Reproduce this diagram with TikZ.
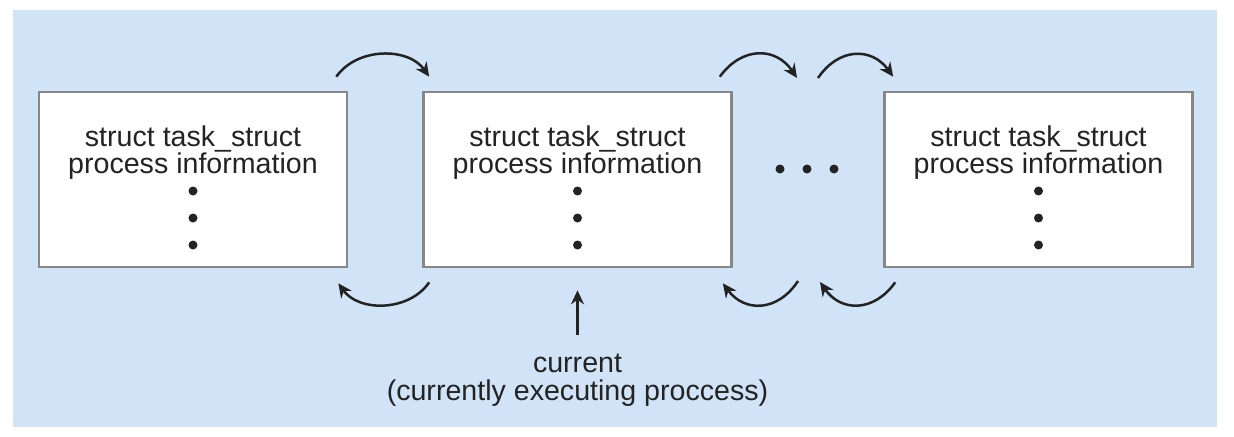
\documentclass[tikz,border=0pt]{standalone}
\usepackage{fontspec}
\setmainfont{Liberation Sans}
\usetikzlibrary{arrows.meta}
\definecolor{panel}{RGB}{209,228,247}
\definecolor{boxline}{RGB}{135,135,135}
\definecolor{ink}{RGB}{35,35,35}
\tikzstyle{task} = [rectangle, draw=boxline, line width=1.3pt, fill=white, minimum width=154pt, minimum height=87.5pt, inner sep=0pt]
\tikzstyle{info} = [align=center, inner sep=0pt, text=ink, font=\fontsize{14.3}{13.7}\selectfont]
\tikzstyle{arrow} = [ink, line width=1.25pt, ->, >={Stealth[length=7pt, width=6.5pt]}]
\tikzstyle{hop} = [arrow, bend left=55]
\begin{document}
\begin{tikzpicture}[x = 0.5pt, y = 0.5pt]

% ----------------------------------------------------

  \useasboundingbox (0,0) rectangle (1234,436);
  \fill[panel] (13,9) rectangle (1217,426);

% ----------------------------------------------------

  \node (task1) [task] at (193, 256.5) {};
  \node (task2) [task] at (577.5, 256.5) {};
  \node (task3) [task] at (1038.5, 256.5) {};
  \coordinate (more) at (807, 267);

  \node (info1) [info, anchor=north] at (193, 311) {struct task\_struct\\process information};
  \node (info2) [info, anchor=north] at (577.5, 311) {struct task\_struct\\process information};
  \node (info3) [info, anchor=north] at (1038.5, 311) {struct task\_struct\\process information};

  % vertical dots in each task
  \foreach \x in {193, 577.5, 1038.5}
    \foreach \y in {245, 218, 191}
      \fill[ink] (\x, \y) circle (4.5);

  % dots between the tasks
  \foreach \x in {-27, 0, 27}
    \fill[ink] ([xshift=\x*0.5pt]more) circle (4.5);

% ----------------------------------------------------

  % forward links
  \draw[hop] ([shift={(-12,14)}]task1.north east) to ([shift={(7,14)}]task2.north west);
  \draw[hop, looseness=1.25] ([shift={(-13,14)}]task2.north east) to ([shift={(-10,91)}]more);
  \draw[hop, looseness=1.25] ([shift={(11,91)}]more) to ([shift={(10,14)}]task3.north west);

  % backward links
  \draw[hop] ([shift={(7,-14)}]task2.south west) to ([shift={(-10,-15)}]task1.south east);
  \draw[hop, looseness=1.25] ([shift={(-9,-112)}]more) to ([shift={(-10,-15)}]task2.south east);
  \draw[hop, looseness=1.25] ([shift={(12,-14)}]task3.south west) to ([shift={(13,-113)}]more);

% ----------------------------------------------------

  \node (cur) [info, anchor=north] at (577.5, 82) {current\\(currently executing proccess)};
  \draw[arrow, line width=1.5pt, shorten <=9.5pt, shorten >=11pt] (cur) -- (task2);

\end{tikzpicture}
\end{document}
